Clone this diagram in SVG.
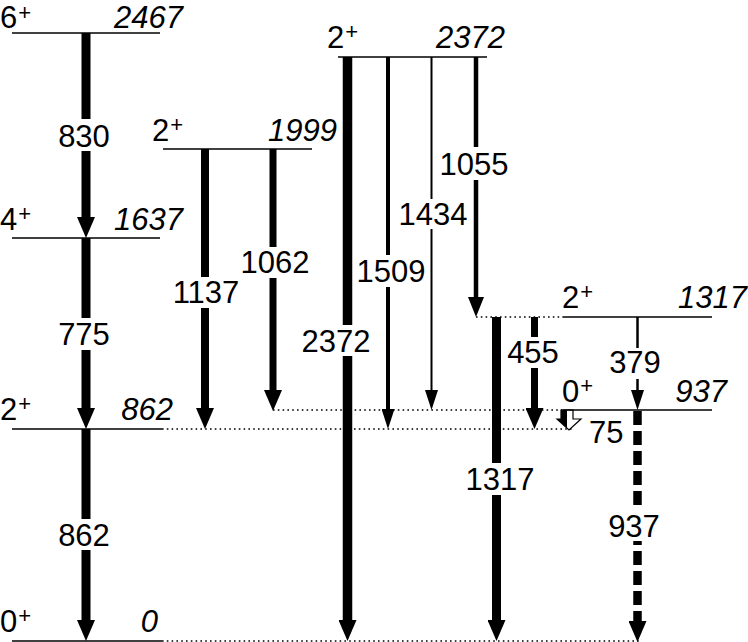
<svg xmlns="http://www.w3.org/2000/svg" width="748" height="642" viewBox="0 0 748 642">
<style>
  text { font-family: "Liberation Sans", Arial, sans-serif; font-size: 31px; fill: #000; }
  .en { font-style: italic; text-anchor: end; }
  .tl { text-anchor: middle; }
  .sup { font-size: 22px; }
  .lvl { stroke: #000; stroke-width: 1.3; fill: none; }
  .dot { stroke: #000; stroke-width: 1.3; stroke-dasharray: 1.6 3.2; fill: none; }
  .tr { stroke: #000; fill: none; stroke-linecap: butt; }
</style>
<defs>
  <marker id="ahL" markerUnits="userSpaceOnUse" markerWidth="21" markerHeight="18" refX="0" refY="9" orient="auto">
    <path d="M0,0 L21,9 L0,18 z" fill="#000"/>
  </marker>
  <marker id="ahM" markerUnits="userSpaceOnUse" markerWidth="20" markerHeight="16" refX="0" refY="8" orient="auto">
    <path d="M0,0 L20,8 L0,16 z" fill="#000"/>
  </marker>
  <marker id="ahS" markerUnits="userSpaceOnUse" markerWidth="20" markerHeight="13" refX="0" refY="6.5" orient="auto">
    <path d="M0,0 L20,6.5 L0,13 z" fill="#000"/>
  </marker>
</defs>
<rect width="748" height="642" fill="#fff"/>

<g id="connectors">
  <line class="dot" x1="162" y1="641" x2="640" y2="641"/>
  <line class="dot" x1="162" y1="429" x2="573" y2="429"/>
  <line class="dot" x1="273" y1="410" x2="563" y2="410"/>
  <line class="dot" x1="476" y1="317" x2="563" y2="317"/>

  <path class="tr" stroke-width="9" d="M86,33 V119 M86,151 V217" marker-end="url(#ahL)"/>
  <text class="tl" x="84" y="147">830</text>
  <path class="tr" stroke-width="9" d="M86,238 V318 M86,350 V408" marker-end="url(#ahL)"/>
  <text class="tl" x="84" y="345">775</text>
  <path class="tr" stroke-width="9" d="M86,429 V519 M86,550 V620" marker-end="url(#ahL)"/>
  <text class="tl" x="84" y="546">862</text>

  <path class="tr" stroke-width="8" d="M205,149 V277 M205,308 V408" marker-end="url(#ahL)"/>
  <text class="tl" x="206" y="303">1137</text>
  <path class="tr" stroke-width="7" d="M273,149 V247 M273,278 V390" marker-end="url(#ahL)"/>
  <text class="tl" x="275" y="273">1062</text>

  <path class="tr" stroke-width="9.5" d="M347.5,57 V325 M347.5,356 V620" marker-end="url(#ahL)"/>
  <text class="tl" x="336" y="352">2372</text>
  <path class="tr" stroke-width="4" d="M388,57 V255 M388,287 V409" marker-end="url(#ahS)"/>
  <text class="tl" x="391" y="282">1509</text>
  <path class="tr" stroke-width="2" d="M431.5,57 V199 M431.5,229 V390" marker-end="url(#ahS)"/>
  <text class="tl" x="433" y="225">1434</text>
  <path class="tr" stroke-width="4.5" d="M476,57 V147 M476,180 V297" marker-end="url(#ahM)"/>
  <text class="tl" x="474" y="175">1055</text>

  <path class="tr" stroke-width="9" d="M496.5,317 V463 M496.5,495 V620" marker-end="url(#ahL)"/>
  <text class="tl" x="500" y="490">1317</text>
  <path class="tr" stroke-width="7" d="M534.5,317 V337 M534.5,368 V408" marker-end="url(#ahL)"/>
  <text class="tl" x="533" y="363">455</text>
  <path class="tr" stroke-width="2.5" d="M637.5,317 V348 M637.5,379 V390" marker-end="url(#ahS)"/>
  <text class="tl" x="635" y="373">379</text>
  <path class="tr" stroke-width="8.5" stroke-dasharray="14 6" d="M637.5,411 V621" marker-end="url(#ahL)"/>
  <rect x="610" y="511" width="50" height="30" fill="#fff"/>
  <text class="tl" x="634" y="537">937</text>

  <polygon points="561,410 573,410 573,419 581,419 569,430 557,419 561,419" fill="#fff" stroke="#000" stroke-width="1.2"/>
  <polygon points="561,410 567,410 567,428 557,419 561,419" fill="#000"/>
  <text x="589" y="443">75</text>
</g>

<g id="level-2467">
  <line class="lvl" x1="12" y1="33" x2="160" y2="33"/>
  <text x="0" y="28">6<tspan class="sup" dx="1" dy="-8">+</tspan></text>
  <text class="en" x="183" y="28">2467</text>
</g>
<g id="level-1637">
  <line class="lvl" x1="12" y1="238" x2="160" y2="238"/>
  <text x="0" y="230">4<tspan class="sup" dx="1" dy="-9">+</tspan></text>
  <text class="en" x="183" y="230">1637</text>
</g>
<g id="level-862">
  <line class="lvl" x1="12" y1="429" x2="162" y2="429"/>
  <text x="0" y="420">2<tspan class="sup" dx="1" dy="-9">+</tspan></text>
  <text class="en" x="173" y="420">862</text>
</g>
<g id="level-0">
  <line class="lvl" x1="12" y1="641" x2="162" y2="641"/>
  <text x="0" y="632">0<tspan class="sup" dx="1" dy="-9">+</tspan></text>
  <text class="en" x="158" y="632">0</text>
</g>
<g id="level-1999">
  <line class="lvl" x1="163" y1="149" x2="312" y2="149"/>
  <text x="152" y="141">2<tspan class="sup" dx="1" dy="-9">+</tspan></text>
  <text class="en" x="337" y="141">1999</text>
</g>
<g id="level-2372">
  <line class="lvl" x1="338" y1="57" x2="487" y2="57"/>
  <text x="327" y="48">2<tspan class="sup" dx="1" dy="-9">+</tspan></text>
  <text class="en" x="505" y="48">2372</text>
</g>
<g id="level-1317">
  <line class="lvl" x1="563" y1="317" x2="712" y2="317"/>
  <text x="562" y="308">2<tspan class="sup" dx="1" dy="-9">+</tspan></text>
  <text class="en" x="747" y="308">1317</text>
</g>
<g id="level-937">
  <line class="lvl" x1="563" y1="410" x2="712" y2="410"/>
  <text x="562" y="402">0<tspan class="sup" dx="1" dy="-9">+</tspan></text>
  <text class="en" x="727" y="402">937</text>
</g>
</svg>
